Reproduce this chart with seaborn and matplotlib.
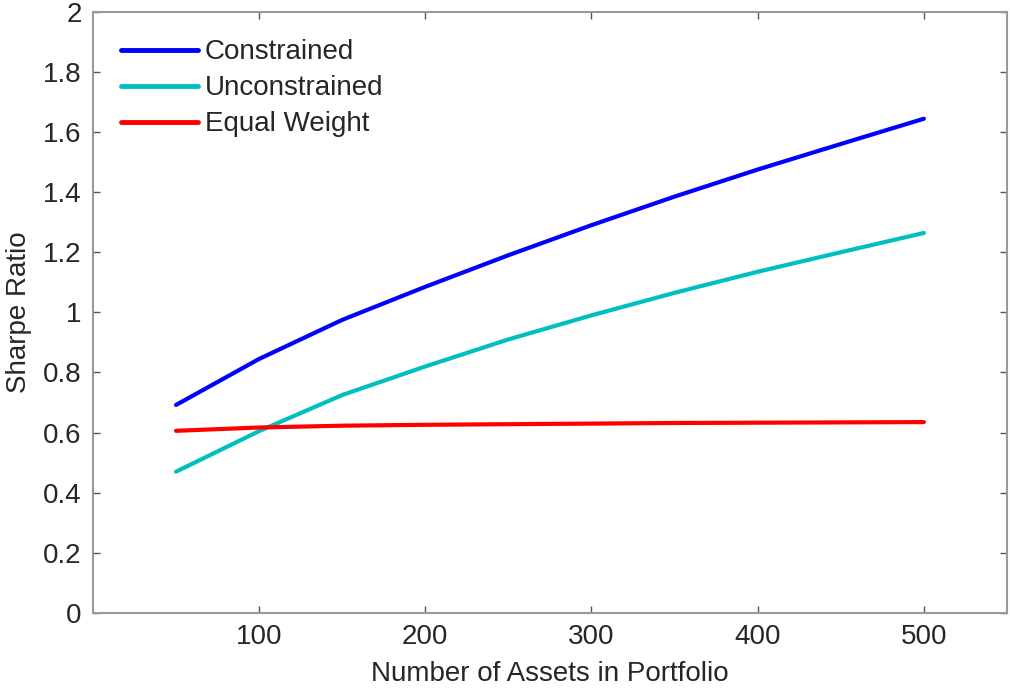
import numpy as np
import pandas as pd
import matplotlib
matplotlib.use("Agg")
import matplotlib.pyplot as plt
import seaborn as sns

n_assets = [50, 100, 150, 200, 250, 300, 350, 400, 450, 500]
constrained = [0.692, 0.845, 0.975, 1.085, 1.19, 1.29, 1.385, 1.475, 1.56, 1.644]
unconstrained = [0.47, 0.605, 0.725, 0.82, 0.91, 0.99, 1.065, 1.135, 1.20, 1.264]
equal_weight = [0.606, 0.617, 0.623, 0.626, 0.628, 0.630, 0.632, 0.633, 0.634, 0.635]

series = ["Constrained", "Unconstrained", "Equal Weight"]
df = pd.DataFrame({
    "N": n_assets * 3,
    "Sharpe": constrained + unconstrained + equal_weight,
    "Strategy": [s for s in series for _ in n_assets],
})

sns.set_style("white")
plt.rcParams["font.family"] = ["Liberation Sans", "DejaVu Sans"]

fig = plt.figure(figsize=(10.1, 6.88), dpi=100)
ax = fig.add_axes([0.092, 0.109, 0.905, 0.874])

sns.lineplot(
    data=df, x="N", y="Sharpe", hue="Strategy", hue_order=series,
    palette=["#0000ff", "#00bfbf", "#ff0000"], linewidth=3, ax=ax,
)

ax.set_xlim(0, 550)
ax.set_ylim(0, 2)
ax.set_xticks([100, 200, 300, 400, 500])
ax.set_yticks(np.arange(0, 2.01, 0.2))
ax.set_yticklabels(["0", "0.2", "0.4", "0.6", "0.8", "1", "1.2", "1.4", "1.6", "1.8", "2"])
ax.tick_params(direction="in", length=5, width=1, color="#555555",
               labelsize=20, labelcolor="#262626", top=True, right=True,
               bottom=True, left=True, pad=8)
for sp in ax.spines.values():
    sp.set_color("#999999")
    sp.set_linewidth(1.5)

ax.set_xlabel("Number of Assets in Portfolio", fontsize=20, color="#262626", labelpad=8)
ax.set_ylabel("Sharpe Ratio", fontsize=20, color="#262626", labelpad=8)

leg = ax.legend(loc="upper left", frameon=False, fontsize=20, handlelength=2.8,
                handletextpad=0.22, labelspacing=0.36, borderaxespad=0.6)
for line in leg.get_lines():
    line.set_linewidth(3.5)

fig.savefig("out.png", dpi=100)
